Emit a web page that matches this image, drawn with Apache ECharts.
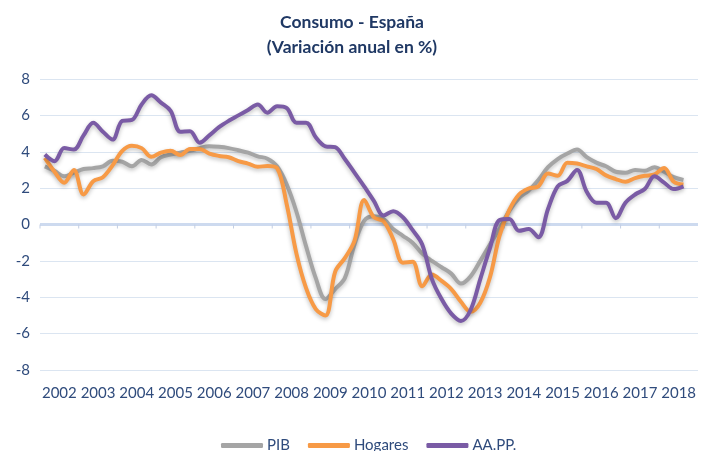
<!DOCTYPE html>
<html>
<head>
<meta charset="utf-8">
<script src="https://cdn.jsdelivr.net/npm/echarts@6/dist/echarts.min.js"></script>
<style>
  html, body { margin: 0; padding: 0; background: #fff; }
  #chart { width: 704px; height: 451px; }
</style>
</head>
<body>
<div id="chart"></div>
<script>
// años del eje x
const years = ['2002', '2003', '2004', '2005', '2006', '2007', '2008', '2009', '2010',
  '2011', '2012', '2013', '2014', '2015', '2016', '2017', '2018'];

// series trimestrales, 2002T1 - 2018T3
const pib = [3.2, 2.95, 2.65, 2.85, 3.05, 3.1, 3.2, 3.5, 3.45, 3.2, 3.55, 3.3, 3.7, 3.85, 3.95, 4.05,
  4.2, 4.3, 4.27, 4.2, 4.08, 3.95, 3.75, 3.62, 3.2, 2.2, 0.7, -1.2, -2.95, -4.1, -3.55, -2.95,
  -1.1, 0.2, 0.45, 0.3, -0.25, -0.62, -1.0, -1.6, -2.0, -2.35, -2.7, -3.25, -2.85, -2.0, -1.1, -0.2,
  0.75, 1.45, 1.87, 2.45, 3.15, 3.6, 3.9, 4.12, 3.7, 3.4, 3.2, 2.9, 2.85, 3.0, 2.95, 3.15,
  2.9, 2.6, 2.45];
const hogares = [3.66, 2.9, 2.3, 3.0, 1.65, 2.38, 2.6, 3.25, 4.05, 4.33, 4.2, 3.72, 3.95, 4.05, 3.82, 4.15,
  4.15, 3.9, 3.77, 3.7, 3.48, 3.35, 3.17, 3.22, 3.1, 1.1, -1.6, -3.5, -4.65, -5.0, -2.6, -1.85,
  -0.9, 1.35, 0.4, 0.18, -0.8, -2.1, -2.05, -3.4, -2.75, -3.1, -3.55, -4.25, -4.8, -4.3, -2.9, -0.6,
  0.8, 1.65, 1.98, 2.1, 2.8, 2.68, 3.4, 3.35, 3.2, 3.05, 2.7, 2.5, 2.35, 2.55, 2.68, 2.75,
  3.1, 2.35, 2.2];
const aapp = [3.85, 3.48, 4.2, 4.12, 4.9, 5.59, 5.1, 4.67, 5.7, 5.75, 6.6, 7.1, 6.7, 6.25, 5.1, 5.13,
  4.5, 4.9, 5.35, 5.7, 6.0, 6.3, 6.6, 6.15, 6.5, 6.4, 5.6, 5.6, 4.8, 4.3, 4.25, 3.6,
  2.85, 2.1, 1.3, 0.5, 0.73, 0.4, -0.3, -1.1, -3.0, -4.1, -4.9, -5.3, -4.7, -3.0, -1.3, 0.25,
  0.3, -0.35, -0.25, -0.7, 0.85, 2.1, 2.4, 3.0, 1.8, 1.2, 1.2, 0.35, 1.2, 1.65, 1.95, 2.65,
  2.3, 1.95, 2.1];

// categorías trimestrales (eje oculto)
const quarters = [];
years.forEach(function (y) {
  for (let q = 1; q <= 4; q++) quarters.push(y + 'T' + q);
});

const textColor = '#2f4b7c';
const fontName = 'Lato';

const myChart = echarts.init(document.getElementById('chart'));

function lineSeries(name, data, color) {
  return {
    name: name,
    type: 'line',
    xAxisIndex: 1,
    data: data,
    smooth: 0.35,
    showSymbol: false,
    z: 3,
    lineStyle: {
      color: color,
      width: 4,
      shadowColor: 'rgba(0,0,0,0.25)',
      shadowBlur: 4,
      shadowOffsetY: 2
    },
    itemStyle: { color: color }
  };
}

// línea del cero y marcas de separación de años
function zeroLine(params, api) {
  const c = api.coord([api.value(0), 0]);
  const bw = api.size([1, 0])[0];
  const x = c[0] - bw / 2;
  const children = [{
    type: 'line',
    shape: { x1: x, y1: c[1], x2: x, y2: c[1] + 4 },
    style: { stroke: '#c3cfe4', lineWidth: 1 }
  }];
  if (params.dataIndex === 0) {
    children.unshift({
      type: 'line',
      shape: { x1: params.coordSys.x, y1: c[1], x2: params.coordSys.x + params.coordSys.width, y2: c[1] },
      style: { stroke: '#cddaef', lineWidth: 3 }
    });
  }
  return { type: 'group', children: children };
}

let option = {
  animation: false,
  title: {
    text: 'Consumo - España\n(Variación anual en %)',
    left: 'center',
    top: 5,
    textStyle: {
      color: '#1f3864',
      fontFamily: fontName,
      fontWeight: 'bold',
      fontSize: 17.5,
      lineHeight: 25
    }
  },
  legend: {
    data: ['PIB', 'Hogares', 'AA.PP.'],
    left: 216,
    top: 433,
    icon: 'roundRect',
    itemWidth: 42,
    itemHeight: 5,
    itemGap: 18,
    textStyle: { color: textColor, fontFamily: fontName, fontSize: 15, padding: [0, 0, 0, -1] }
  },
  grid: { left: 40, right: 6, top: 79, bottom: 81 },
  xAxis: [
    {
      // etiquetas de años
      type: 'category',
      data: years,
      position: 'bottom',
      boundaryGap: true,
      axisLine: { show: false, onZero: false },
      axisTick: { show: false },
      axisLabel: { color: textColor, fontFamily: fontName, fontSize: 15, margin: 16, interval: 0 }
    },
    {
      type: 'category',
      data: quarters,
      boundaryGap: true,
      show: false
    }
  ],
  yAxis: {
    type: 'value',
    min: -8,
    max: 8,
    interval: 2,
    axisLine: { show: false },
    axisTick: { show: false },
    axisLabel: { color: textColor, fontFamily: fontName, fontSize: 15, margin: 10 },
    splitLine: { lineStyle: { color: '#dbe5f1', width: 1 } }
  },
  series: [
    {
      type: 'custom',
      xAxisIndex: 0,
      silent: true,
      z: 1,
      data: years.map(function (y, i) { return [i, 0]; }),
      renderItem: zeroLine
    },
    lineSeries('PIB', pib, '#a5a5a5'),
    lineSeries('Hogares', hogares, '#f79a46'),
    lineSeries('AA.PP.', aapp, '#7a5ba5')
  ]
};

myChart.setOption(option);
</script>
</body>
</html>
